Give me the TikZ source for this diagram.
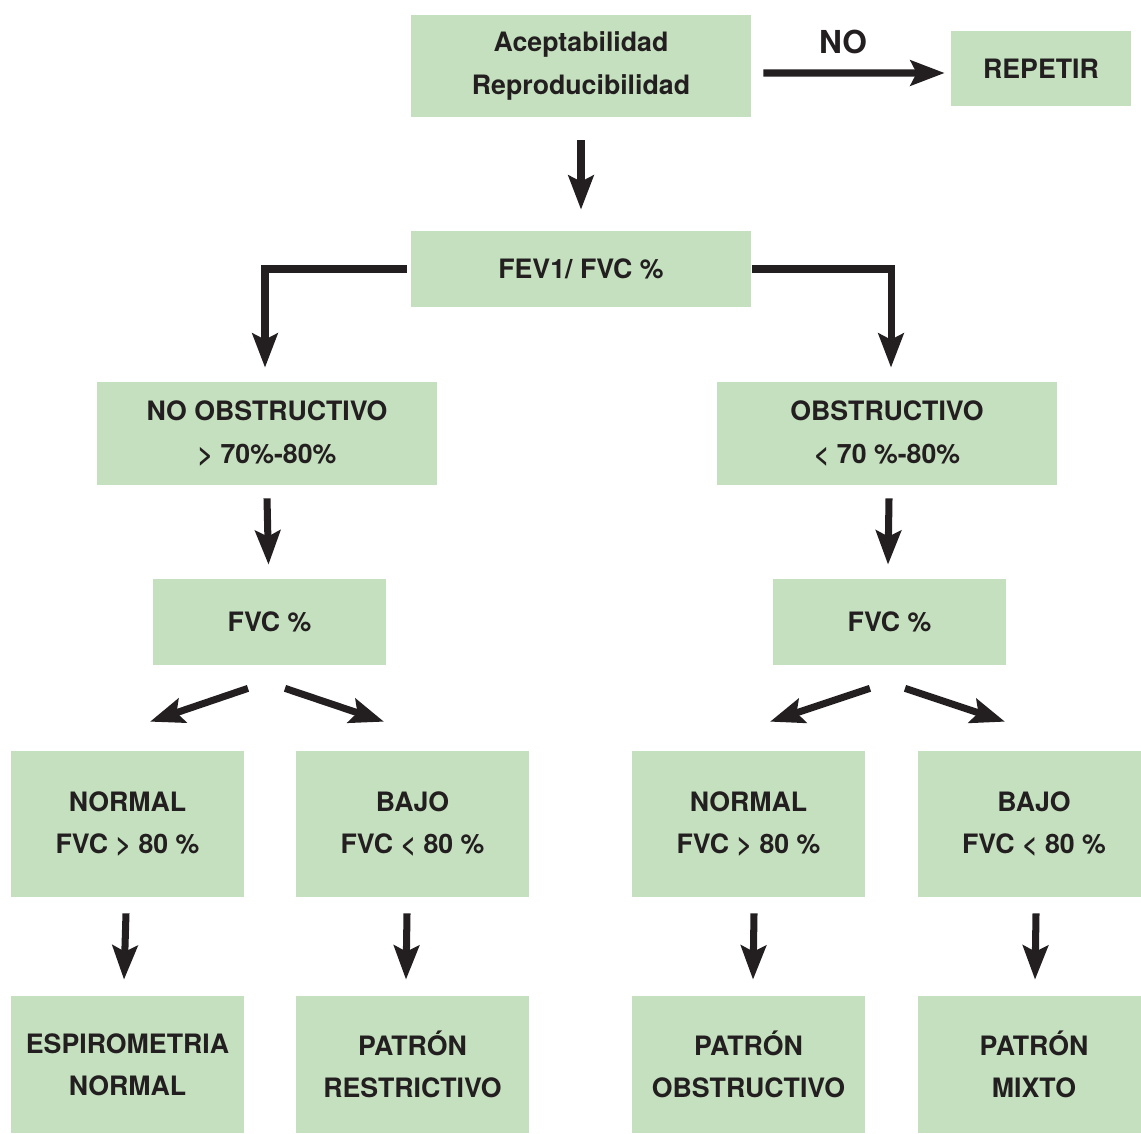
\documentclass[tikz,border=0pt]{standalone}
\usepackage{fontspec}
\setmainfont{TeX Gyre Heros}
\usetikzlibrary{arrows.meta}
\definecolor{boxgreen}{RGB}{197,224,190}
\definecolor{inkdark}{RGB}{35,31,32}
\tikzset{
  box/.style={fill=boxgreen, inner sep=0pt, align=center, text=inkdark,
    font=\fontsize{15.2}{24}\selectfont\bfseries},
  arr/.style={draw=inkdark, line width=4pt,
    -{Stealth[length=0.68cm, width=0.5cm, inset=0.12cm]}}
}
\begin{document}
\begin{tikzpicture}[x=0.02cm, y=-0.02cm]
  \useasboundingbox (0,0) rectangle (1141,1133);
  \clip (0,0) rectangle (1141,1133);
  % boxes
  \node[box, minimum width=6.8cm, minimum height=2.04cm] (acep) at (581,66) {Aceptabilidad\\Reproducibilidad};
  \node[box, minimum width=3.6cm, minimum height=1.5cm] (repe) at (1041,68.5) {REPETIR};
  \node[box, minimum width=6.8cm, minimum height=1.52cm] (fev) at (581,269) {FEV1/ FVC \%};
  \node[box, minimum width=6.8cm, minimum height=2.06cm] (noobs) at (267,433.5) {NO OBSTRUCTIVO\\> 70\%-80\%};
  \node[box, minimum width=6.8cm, minimum height=2.06cm] (obs) at (887,433.5) {OBSTRUCTIVO\\< 70 \%-80\%};
  \node[box, minimum width=4.66cm, minimum height=1.72cm] (fvcL) at (269.5,622) {FVC \%};
  \node[box, minimum width=4.66cm, minimum height=1.72cm] (fvcR) at (889.5,622) {FVC \%};
  \node[box, minimum width=4.66cm, minimum height=2.92cm] (normL) at (127.5,824) {NORMAL\\FVC > 80 \%};
  \node[box, minimum width=4.66cm, minimum height=2.92cm] (bajoL) at (412.5,824) {BAJO\\FVC < 80 \%};
  \node[box, minimum width=4.66cm, minimum height=2.92cm] (normR) at (748.5,824) {NORMAL\\FVC > 80 \%};
  \node[box, minimum width=4.66cm, minimum height=2.92cm] (bajoR) at (1034,824) {BAJO\\FVC < 80 \%};
  \node[box, minimum width=4.66cm, minimum height=2.74cm] (espi) at (127.5,1064.5) {ESPIROMETRIA\\NORMAL};
  \node[box, minimum width=4.66cm, minimum height=2.74cm] (rest) at (412.5,1064.5) {PATRÓN\\RESTRICTIVO};
  \node[box, minimum width=4.66cm, minimum height=2.74cm] (obst) at (748.5,1064.5) {PATRÓN\\OBSTRUCTIVO};
  \node[box, minimum width=4.66cm, minimum height=2.74cm] (mixt) at (1034,1064.5) {PATRÓN\\MIXTO};
  % arrows
  \draw[arr] ([xshift=0.24cm, yshift=-0.14cm]acep.east) -- ([xshift=-0.12cm, yshift=-0.09cm]repe.west)
    node[midway, above=0.2cm, xshift=-0.22cm, text=inkdark, font=\fontsize{18}{20}\selectfont\bfseries] (no) {NO};
  \draw[arr] ([yshift=-0.46cm]acep.south) -- ([yshift=0.42cm]fev.north);
  \draw[arr] ([xshift=-0.08cm]fev.west) -| ([xshift=-0.04cm, yshift=0.28cm]noobs.north);
  \draw[arr] ([xshift=0.02cm]fev.east) -| ([xshift=0.08cm, yshift=0.28cm]obs.north);
  \draw[arr] ([yshift=-0.26cm]noobs.south) -- ([xshift=-0.02cm, yshift=0.28cm]fvcL.north);
  \draw[arr] ([xshift=0.04cm, yshift=-0.26cm]obs.south) -- ([xshift=-0.03cm, yshift=0.28cm]fvcR.north);
  \draw[arr] ([shift={(-21.5,23)}]fvcL.south) -- ([shift={(22.5,-29)}]normL.north);
  \draw[arr] ([shift={(15.5,23)}]fvcL.south) -- ([shift={(-28.5,-29)}]bajoL.north);
  \draw[arr] ([shift={(-19.5,23)}]fvcR.south) -- ([shift={(21.5,-29)}]normR.north);
  \draw[arr] ([shift={(15.5,23)}]fvcR.south) -- ([shift={(-29,-29)}]bajoR.north);
  \foreach \source/\dest/\xs/\xd in {normL/espi/-1.5/-3.5, bajoL/rest/-5.5/-6.5, normR/obst/5.5/4.5, bajoR/mixt/2/1}
    \draw[arr] ([shift={(\xs,16)}]\source.south) -- ([shift={(\xd,-16)}]\dest.north);
\end{tikzpicture}
\end{document}
